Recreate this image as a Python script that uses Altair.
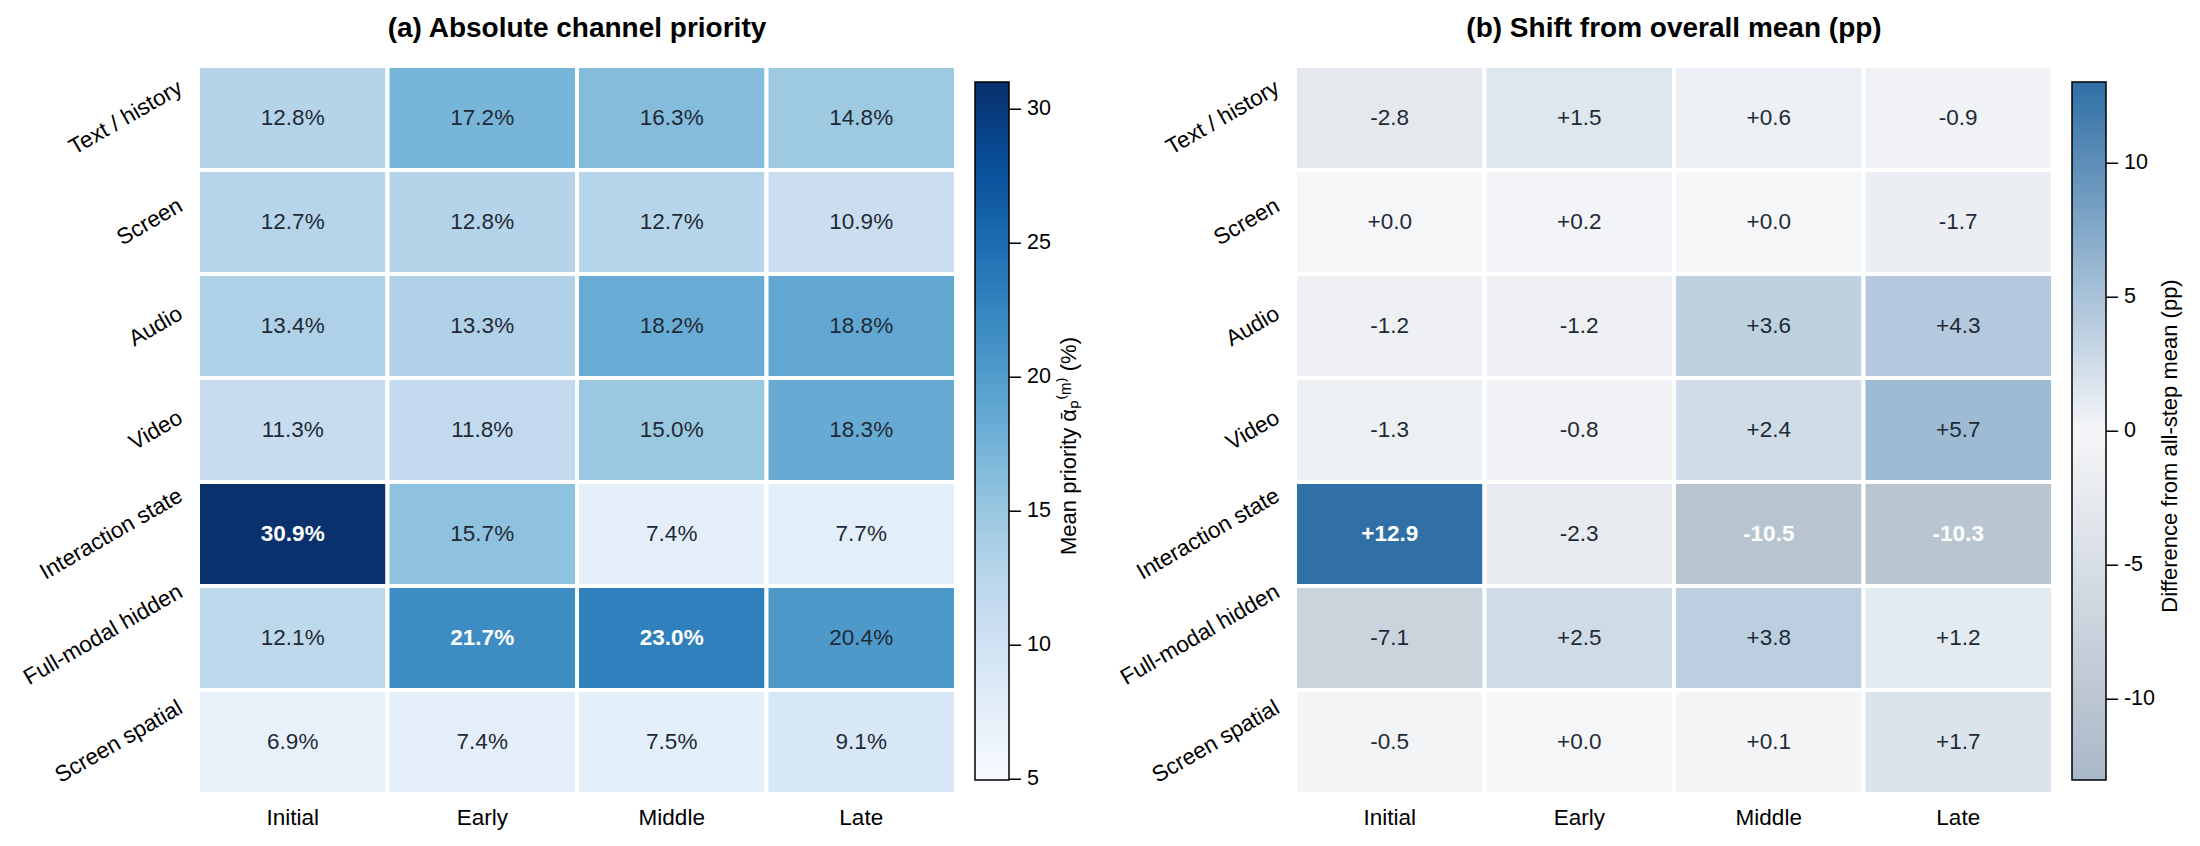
import altair as alt
import pandas as pd

steps = ["Initial", "Early", "Middle", "Late"]
channels = ["Text / history", "Screen", "Audio", "Video",
            "Interaction state", "Full-modal hidden", "Screen spatial"]

# absolute channel priority (%), one list per step, rows follow `channels`
priority_initial = [12.8, 12.7, 13.4, 11.3, 30.9, 12.1, 6.9]
priority_early = [17.2, 12.8, 13.3, 11.8, 15.7, 21.7, 7.4]
priority_middle = [16.3, 12.7, 18.2, 15.0, 7.4, 23.0, 7.5]
priority_late = [14.8, 10.9, 18.8, 18.3, 7.7, 20.4, 9.1]

# shift from overall mean (pp)
shift_initial = [-2.8, 0.0, -1.2, -1.3, 12.9, -7.1, -0.5]
shift_early = [1.5, 0.2, -1.2, -0.8, -2.3, 2.5, 0.0]
shift_middle = [0.6, 0.0, 3.6, 2.4, -10.5, 3.8, 0.1]
shift_late = [-0.9, -1.7, 4.3, 5.7, -10.3, 1.2, 1.7]

left_ticks = [5, 10, 15, 20, 25, 30]
right_ticks = [-10, -5, 0, 5, 10]

prio_cols = [priority_initial, priority_early, priority_middle, priority_late]
shift_cols = [shift_initial, shift_early, shift_middle, shift_late]

rows_a, rows_b = [], []
for s, pc, sc in zip(steps, prio_cols, shift_cols):
    for c, pv, sv in zip(channels, pc, sc):
        rows_a.append({"step": s, "channel": c, "v": pv, "label": f"{pv:.1f}%"})
        rows_b.append({"step": s, "channel": c, "v": sv, "label": f"{sv:+.1f}"})
df_a = pd.DataFrame(rows_a)
df_b = pd.DataFrame(rows_b)

FONT = "Liberation Sans"
W, H = 758, 728
blues = ["#f7fbff", "#deebf7", "#c6dbef", "#9ecae1", "#6baed6",
         "#4292c6", "#2171b5", "#08519c", "#08306b"]
vmin, vmax = 4.96, 31.0
blue_domain = [vmin + i * (vmax - vmin) / 8 for i in range(9)]

# vertical offsets so rotated labels are centred on their rows
label_offsets = {"Text / history": -32, "Screen": -18, "Audio": -14, "Video": -14,
                 "Interaction state": -40, "Full-modal hidden": -48, "Screen spatial": -36}
y_axis = alt.Axis(
    labelAngle=330, labelAlign="right", labelBaseline="middle", labelPadding=18,
    ticks=False, domain=False, labelFontSize=22.5, labelColor="black", labelLimit=400,
    labelOffset={"condition": [{"test": f"datum.value === '{k}'", "value": v}
                               for k, v in label_offsets.items()], "value": 0},
)
x_axis = alt.Axis(labelAngle=0, ticks=False, domain=False, labelFontSize=22.5,
                  labelColor="black", labelPadding=12)


def make_legend(values):
    return alt.Legend(
        orient="none", legendX=777, legendY=16, direction="vertical",
        gradientLength=698, gradientThickness=34, gradientStrokeColor="black",
        gradientStrokeWidth=1.5, values=values, labelFontSize=21.5, labelColor="black",
        labelExpr="'\u2013 ' + datum.value", labelOffset=0, labelBaseline="middle",
        labelOverlap=False, labelFont=FONT,
    )


def panel(df, scale, ticks, cbar_title, cbar_x, title, bold_test):
    base = alt.Chart(df).encode(
        x=alt.X("step:N", sort=steps, axis=x_axis, title=None,
                scale=alt.Scale(paddingInner=0, paddingOuter=0)),
        y=alt.Y("channel:N", sort=channels, axis=y_axis, title=None,
                scale=alt.Scale(paddingInner=0, paddingOuter=0)),
    )
    rect = base.mark_rect(stroke="white", strokeWidth=4).encode(
        color=alt.Color("v:Q", scale=scale, legend=make_legend(ticks), title=None))
    txt_n = base.transform_filter(f"!({bold_test})").mark_text(
        fontSize=22.5, color="#1f2a36", font=FONT).encode(text="label:N")
    txt_b = base.transform_filter(bold_test).mark_text(
        fontSize=22.5, color="white", fontWeight="bold", font=FONT).encode(text="label:N")
    cbar_lbl = alt.Chart(pd.DataFrame({"t": [cbar_title]})).mark_text(
        angle=270, fontSize=22, color="black", font=FONT, baseline="middle", align="center"
    ).encode(x=alt.value(cbar_x), y=alt.value(H / 2 + 16), text="t:N")
    return alt.layer(rect, txt_n, txt_b, cbar_lbl).properties(
        width=W, height=H,
        title=alt.TitleParams(text=title, fontSize=28, fontWeight="bold", anchor="middle",
                              frame="group", baseline="alphabetic", offset=-1,
                              color="black", font=FONT),
    )


left = panel(
    df_a,
    alt.Scale(domain=blue_domain, range=blues, interpolate="rgb"),
    left_ticks,
    "Mean priority \u1fb1\u209a\u207d\u1d50\u207e (%)", 871,
    "(a) Absolute channel priority",
    "datum.v > 21",
)
right = panel(
    df_b,
    alt.Scale(domain=[-13, 0, 13], range=["#a9b8c7", "#f5f6f8", "#2f6fa5"], interpolate="rgb"),
    right_ticks,
    "Difference from all-step mean (pp)", 875,
    "(b) Shift from overall mean (pp)",
    "abs(datum.v) > 10",
)

chart = alt.hconcat(left, right, spacing=35).resolve_scale(
    color="independent").resolve_legend(color="independent").properties(
    padding={"left": 19, "top": 14, "right": 5, "bottom": 5},
    background="white",
).configure_view(stroke=None).configure(font=FONT)

chart.save("out.html", embed_options={"renderer": "svg", "actions": False})
